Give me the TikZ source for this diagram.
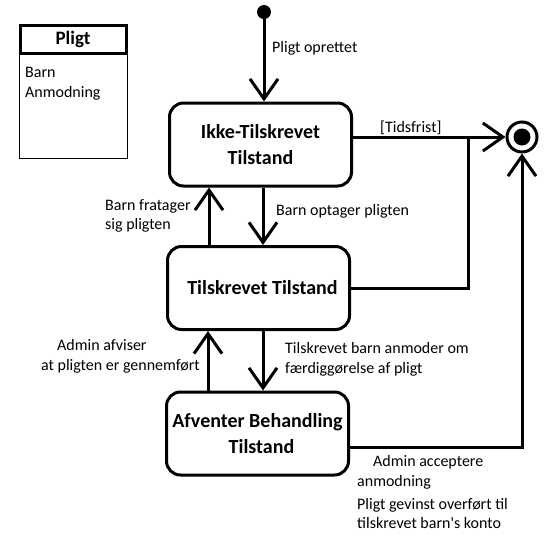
\documentclass[tikz,border=0pt]{standalone}
\usepackage{fontspec}
\setmainfont{Carlito}
\usetikzlibrary{arrows.meta}

\begin{document}
\begin{tikzpicture}[x=1pt,y=-1pt,
  state/.style={draw,line width=3pt,rounded corners=14pt,minimum width=182pt,minimum height=83pt,
    align=center,inner sep=0pt,font=\fontsize{20}{26}\selectfont\bfseries},
  arr/.style={line width=3pt,-{Straight Barb[length=20pt,width=28pt]}},
  wire/.style={line width=3pt},
  lbl/.style={anchor=west,inner sep=0pt,align=left,font=\fontsize{16}{19.5}\selectfont}]
\useasboundingbox (0,0) rectangle (550,542);
% class box
\node[draw,line width=1pt,minimum width=108pt,minimum height=134pt,inner sep=0pt] (cls) at (73,91) {};
\node[draw,line width=3pt,minimum width=106pt,minimum height=28pt,inner sep=0pt,
  font=\fontsize{19}{22}\selectfont\bfseries] (clsh) at (73,39.5) {Pligt};
\node[lbl] (a1) at (25,72) {Barn};
\node[lbl] (a2) at (25,93) {Anmodning};
% states
\node[circle,fill,minimum size=14pt,inner sep=0pt] (s0) at (264,12) {};
\node[state] (s1) at (260.5,144.5) {Ikke-Tilskrevet\\Tilstand};
\node[state] (s2) at (258.5,288) {\hspace*{8pt}Tilskrevet Tilstand};
\node[state] (s3) at (257.5,433.5) {Afventer Behandling\\\hspace*{8pt}Tilstand};
\node[circle,draw,line width=3pt,minimum size=30pt,inner sep=0pt] (sf) at (522,137) {};
\node[circle,fill,minimum size=17pt,inner sep=0pt] (sfd) at (sf) {};
\coordinate (j1) at (468,137);
% transitions
\draw[arr] (s0) -- (s0 |- s1.north);
\draw[arr] ([xshift=2.5pt]s1.south) -- ([xshift=2.5pt]s1.south |- s2.north);
\draw[arr] ([xshift=-49.5pt]s2.north) -- ([xshift=-49.5pt]s2.north |- s1.south);
\draw[arr] ([xshift=4.5pt]s2.south) -- ([xshift=4.5pt]s2.south |- s3.north);
\draw[arr] ([xshift=-49.5pt]s3.north) -- ([xshift=-49.5pt]s3.north |- s2.south);
\draw[arr] (s1.east |- sf) -- (sf.west);
\draw[wire] (s2.east) -| (j1);
\draw[arr] ([yshift=-13.5pt]s3.east) -| (sf.south);
% labels
\node[lbl] (l0) at (272,48) {Pligt oprettet};
\node[lbl] (l1) at (380,128) {[Tidsfrist]};
\node[lbl] (l2) at (105,216) {Barn fratager\\sig pligten};
\node[lbl] (l3) at (276,211) {Barn optager pligten};
\node[lbl] (l4) at (41,356.5) {\hspace*{16pt}Admin afviser\\at pligten er gennemført};
\node[lbl] (l5) at (285,359.5) {Tilskrevet barn anmoder om\\færdiggørelse af pligt};
\node[lbl] (l6) at (357,472.5) {\hspace*{16pt}Admin acceptere\\anmodning};
\node[lbl] (l7) at (357,513.5) {Pligt gevinst overført til\\tilskrevet barn\textquotesingle s konto};
\end{tikzpicture}
\end{document}
